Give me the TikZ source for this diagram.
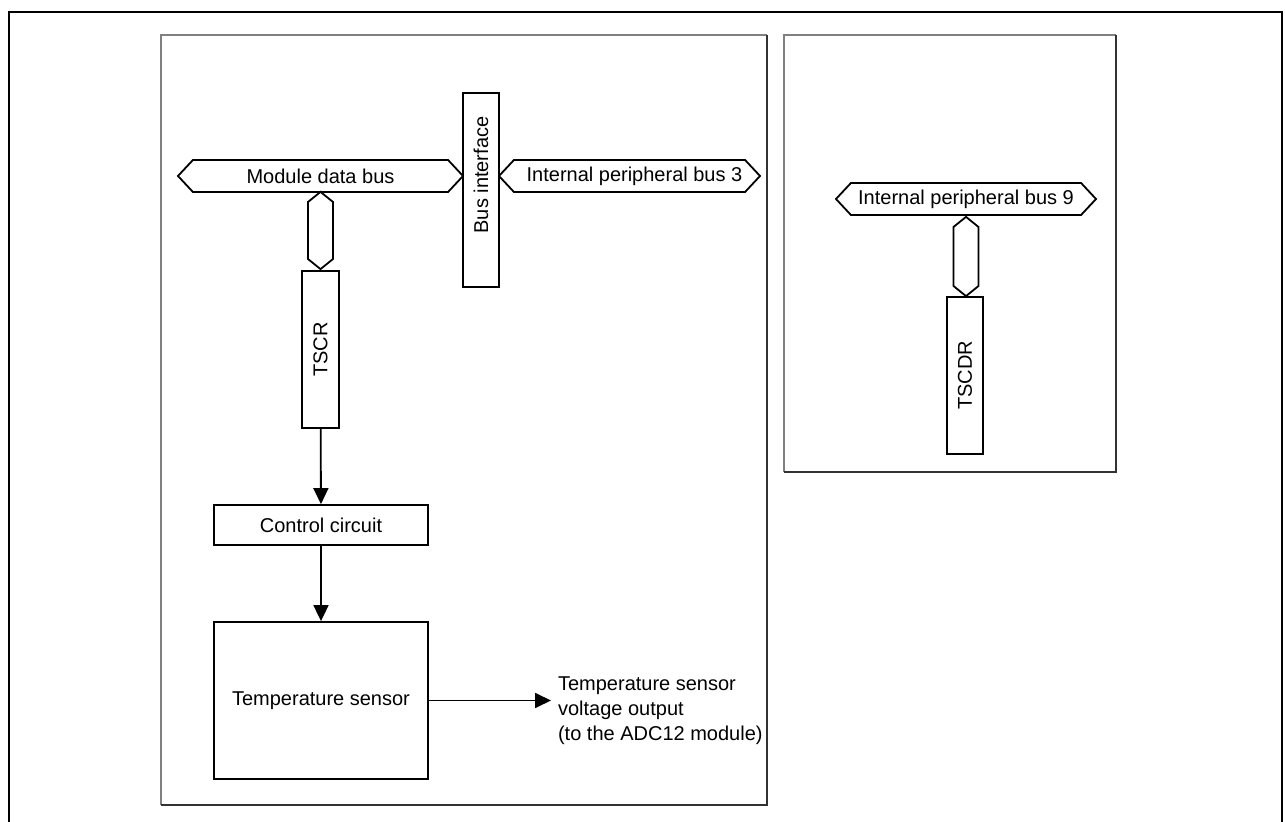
\documentclass[tikz,border=0pt]{standalone}
\usepackage{fontspec}
\setmainfont{Liberation Sans}
\usetikzlibrary{arrows.meta,shapes.symbols}

\definecolor{panelgray}{RGB}{128,128,128}
\definecolor{paneldark}{RGB}{50,50,50}

\begin{document}
\begin{tikzpicture}[
    x=0.5pt, y=-0.5pt,
    every node/.style={font=\fontsize{10}{12.5}\selectfont},
    block/.style={draw, line width=0.9pt, rectangle, align=center, inner sep=0pt},
    vblock/.style={block, rotate=90},
    hbus/.style={draw, line width=0.9pt, signal, signal to=west and east, signal pointer angle=94, inner sep=0pt, minimum height=16pt},
    vbus/.style={draw, line width=0.9pt, signal, signal to=north and south, signal pointer angle=102, inner sep=0pt, minimum width=12.5pt},
    panel/.style={draw=panelgray, line width=0.6pt},
    panelshade/.style={draw=paneldark, line width=0.6pt},
    arrow/.style={-{Triangle[length=8pt,width=7.5pt]}, line width=0.9pt}
]
\useasboundingbox (0,0) rectangle (1285,822);

% outer frame and the two panels
\draw[line width=1.25pt] (9,822) -- (9,12) -- (1282,12) -- (1282,822);
\draw[panel] (161,805) -- (161,35) -- (767,35);
\draw[panelshade] (767,35) -- (767,805) -- (161,805);
\draw[panel] (784,472) -- (784,35) -- (1116,35);
\draw[panelshade] (1116,35) -- (1116,472) -- (784,472);

% left panel
\node[hbus, minimum width=142.5pt] (mdb) at (320.5,176) {Module data bus};
\node[vblock, minimum width=97pt, minimum height=18pt] (busif) at (481,190) {\hspace*{15pt}Bus interface};
\node[hbus, minimum width=130.5pt] (ipb3) at (629.5,176) {\hspace*{5pt}Internal peripheral bus 3};
\node[vbus, minimum height=28.5pt] (mdblink) at (320.5,230.5) {};
\node[vblock, minimum width=78.5pt, minimum height=18.5pt] (tscr) at (320.5,349.5) {TSCR};
\node[block, minimum width=107pt, minimum height=20pt] (ctrl) at (321,525) {Control circuit};
\node[block, minimum width=107pt, minimum height=78.5pt] (tsens) at (321,700.5) {Temperature sensor};
\node[align=left, anchor=west] (vout) at (551,711) {Temperature sensor\\voltage output\\(to the ADC12 module)};

\draw[arrow] (tscr) -- (ctrl);
\draw[arrow] (ctrl) -- (tsens);
\draw[arrow] (tsens.east) -- (tsens.east -| vout.west);

% right panel
\node[hbus, minimum width=130pt] (ipb9) at (966,199) {Internal peripheral bus 9};
\node[vbus, minimum height=29.5pt] (ipb9link) at (966,256.5) {};
\node[vblock, minimum width=78.5pt, minimum height=18pt] (tscdr) at (965,375.5) {TSCDR};

\end{tikzpicture}
\end{document}
